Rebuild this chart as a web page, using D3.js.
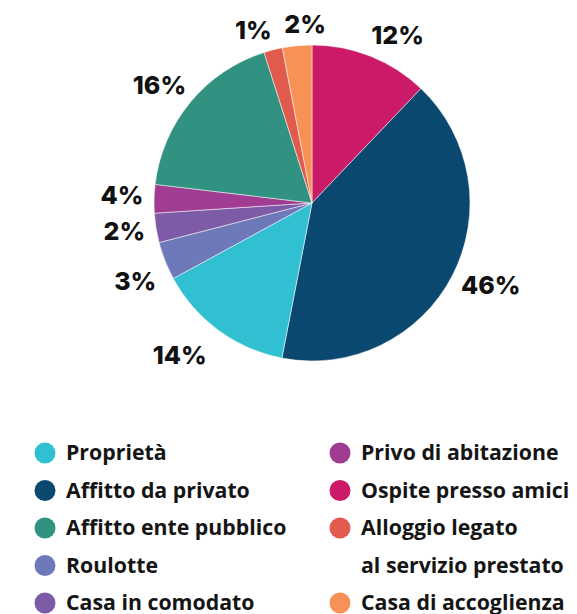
<!DOCTYPE html>
<html>
<head>
<meta charset="utf-8">
<script src="https://cdn.jsdelivr.net/npm/d3@7"></script>
<style>
  body { margin: 0; background: #fff; }
  .pie-label { font-family: Inter, 'Noto Sans', sans-serif; font-weight: 800; font-size: 25px; fill: #111; }
  .legend-text { font-family: 'Open Sans', 'Noto Sans', sans-serif; font-weight: 700; font-size: 21.3px; fill: #151515; }
</style>
</head>
<body>
<svg id="chart"></svg>
<script>
// slices in drawing order, clockwise from 12 o'clock
const categories = [
  'Ospite presso amici',
  'Affitto da privato',
  'Proprietà',
  'Roulotte',
  'Casa in comodato',
  'Privo di abitazione',
  'Affitto ente pubblico',
  'Alloggio legato al servizio prestato',
  'Casa di accoglienza',
];
// slice shares as drawn in the picture
const values = [12.1, 40.9, 14.0, 3.9, 3.0, 2.9, 18.2, 1.9, 3.0];
// printed labels
const labels = ['12%', '46%', '14%', '3%', '2%', '4%', '16%', '1%', '2%'];
const colors = [
  '#CB1A67', '#0B4870', '#31C0D2', '#6E79BA', '#7D5BA6',
  '#A03C92', '#329282', '#E05A4E', '#F79257',
];

// legend layout: two columns
const legendLeft = ['Proprietà', 'Affitto da privato', 'Affitto ente pubblico', 'Roulotte', 'Casa in comodato'];
const legendRight = ['Privo di abitazione', 'Ospite presso amici', 'Alloggio legato al servizio prestato', 'Casa di accoglienza'];

const width = 577;
const height = 614;
const center = { x: 312, y: 203 };
const radius = 158;
const labelRadius = 190;
// hand placement tweaks for the outside labels (px), same order as slices
const labelNudge = [
  [15, 8], [10, -5], [-20, -1], [0, 8], [0, -2], [0, -3], [-6, 3], [-12, 11], [11, 10],
];

const svg = d3.select('#chart')
  .attr('width', width)
  .attr('height', height);

const color = d3.scaleOrdinal(colors).domain(categories);

const pie = d3.pie().sort(null).value((d) => d.value);
const arcs = pie(categories.map((c, i) => ({ name: c, value: values[i], label: labels[i] })));

const arc = d3.arc().innerRadius(0).outerRadius(radius);
const labelArc = d3.arc().innerRadius(labelRadius).outerRadius(labelRadius);

const gPie = svg.append('g')
  .attr('transform', `translate(${center.x},${center.y})`);

gPie.selectAll('path')
  .data(arcs)
  .enter()
  .append('path')
  .attr('d', arc)
  .attr('fill', (d) => color(d.data.name))
  .attr('stroke', '#fff')
  .attr('stroke-width', 0.5);

gPie.selectAll('text')
  .data(arcs)
  .enter()
  .append('text')
  .attr('class', 'pie-label')
  .attr('text-anchor', 'middle')
  .attr('dy', '0.36em')
  .attr('transform', (d, i) => {
    const [x, y] = labelArc.centroid(d);
    return `translate(${x + labelNudge[i][0]},${y + labelNudge[i][1]})`;
  })
  .text((d) => d.data.label);

// Legend
const rowH = 37.5;
const legendTop = 453;

function drawLegend(items, cx, tx) {
  const g = svg.append('g');
  let row = 0;
  items.forEach((name) => {
    const y = legendTop + row * rowH;
    g.append('circle')
      .attr('cx', cx)
      .attr('cy', y)
      .attr('r', 10.5)
      .attr('fill', color(name));
    const lines = name === 'Alloggio legato al servizio prestato'
      ? ['Alloggio legato', 'al servizio prestato'] : [name];
    lines.forEach((line, j) => {
      g.append('text')
        .attr('class', 'legend-text')
        .attr('x', tx)
        .attr('y', y + j * rowH)
        .attr('dy', '0.35em')
        .text(line);
    });
    row += lines.length;
  });
}

drawLegend(legendLeft, 45, 66);
drawLegend(legendRight, 340, 361);
</script>
</body>
</html>
